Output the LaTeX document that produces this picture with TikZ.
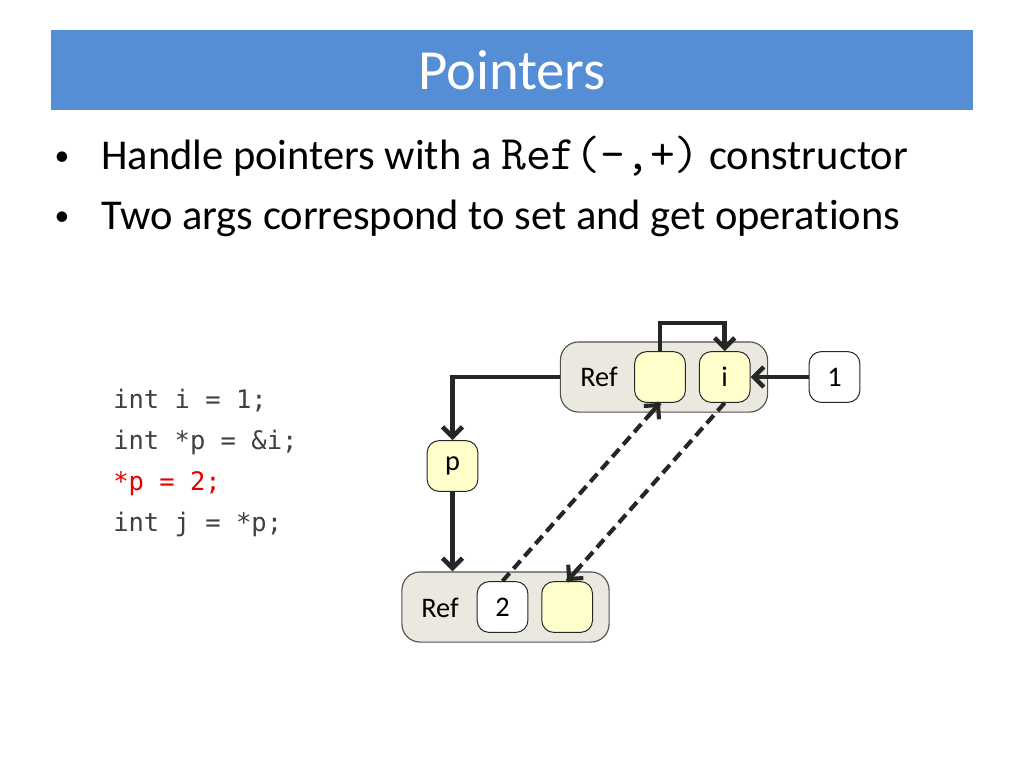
\documentclass[tikz,border=0pt]{standalone}
\usepackage{fontspec}
\setmainfont[Ligatures=NoCommon]{Carlito}
\newfontfamily\codefont{DejaVu Sans Mono}
\usetikzlibrary{positioning,arrows.meta,calc}

\definecolor{titleblue}{RGB}{85,142,213}
\definecolor{boxgray}{RGB}{234,232,223}
\definecolor{cellyellow}{RGB}{255,255,204}
\definecolor{inkgray}{RGB}{38,38,38}
\definecolor{codegray}{RGB}{64,64,64}
\definecolor{codered}{RGB}{230,0,0}

\begin{document}
\begin{tikzpicture}[
    x=0.024805cm, y=-0.024805cm,
    >={Straight Barb[length=0.25cm, width=0.5cm]},
    titlebar/.style={
        fill=titleblue,
        text=white,
        minimum width=22.87cm,
        minimum height=1.98cm,
        font=\fontsize{40pt}{44pt}\selectfont
    },
    bullettext/.style={
        anchor=base west,
        inner sep=0pt,
        font=\fontsize{30pt}{34pt}\selectfont
    },
    bulletdot/.style={
        anchor=base,
        inner sep=0pt,
        font=\fontsize{21pt}{24pt}\selectfont
    },
    codeline/.style={
        anchor=base west,
        inner sep=0pt,
        text=codegray,
        font=\codefont\fontsize{18pt}{22pt}\selectfont
    },
    container/.style={
        draw=inkgray!80,
        fill=boxgray,
        rounded corners=0.45cm,
        line width=0.8pt,
        minimum width=5.14cm,
        minimum height=1.74cm
    },
    cell/.style={
        draw=inkgray,
        fill=cellyellow,
        rounded corners=0.3cm,
        line width=0.7pt,
        minimum size=1.26cm,
        inner sep=0pt,
        font=\fontsize{20pt}{24pt}\selectfont
    },
    valcell/.style={
        cell,
        fill=white
    },
    reflabel/.style={
        inner sep=0pt,
        font=\fontsize{20pt}{24pt}\selectfont
    },
    link/.style={
        ->,
        draw=inkgray,
        line width=3.2pt
    },
    flow/.style={
        draw=inkgray,
        line width=2.9pt,
        dash pattern=on 7.5pt off 4.2pt
    },
    flowtip/.style={
        link,
        line width=2.9pt
    }
]
\useasboundingbox (0,0) rectangle (1024,768);

% Title bar
\node[titlebar] (title) at (512,70) {Pointers};

% Bullets
\node[bulletdot] (bulA) at (62,165) {•};
\node[bullettext] (textA) at (101,169) {Handle pointers with a {\ttfamily\fontsize{34pt}{36pt}\selectfont Ref(-,+)} constructor};
\node[bulletdot] (bulB) at (62,225) {•};
\node[bullettext] (textB) at (101,229) {Two args correspond to set and get operations};

% Code
\node[codeline] (codeA) at (113,408) {int i = 1;};
\node[codeline] (codeB) at (113,449) {int *p = \&i;};
\node[codeline, text=codered] (codeC) at (113,490) {*p = 2;};
\node[codeline] (codeD) at (113,531) {int j = *p;};

% Top Ref
\node[container] (refTop) at (664,377) {};
\node[reflabel] (lblTop) at (599,377) {Ref};
\node[cell] (setTop) at (660,377) {};
\node[cell, right=0.32cm of setTop] (getTop) {i};
\node[valcell, right=1.44cm of getTop] (one) {1};

% Pointer cell
\node[cell] (pcell) at (452.5,466) {p};

% Bottom Ref
\node[container] (refBot) at (505.5,607) {};
\node[reflabel] (lblBot) at (440,608) {Ref};
\node[valcell] (two) at (502.5,607) {2};
\node[cell, right=0.32cm of two] (getBot) {};

% Connections
\draw[link] (one) -- (getTop);
\draw[link] (setTop.north) -- ++(0,-28) -| (getTop.north);
\draw[link] (refTop.west) -| (pcell.north);
\draw[link] (pcell.south) -- (pcell.south |- refBot.north);

% Dashed set/get flows (tips drawn solid)
\draw[flow] (two.north) -- (setTop.south);
\draw[flowtip] ($(setTop.south)!0.45cm!(two.north)$) -- (setTop.south);
\draw[flow] (getTop.south) -- (getBot.north);
\draw[flowtip] ($(getBot.north)!0.45cm!(getTop.south)$) -- (getBot.north);

\end{tikzpicture}
\end{document}
